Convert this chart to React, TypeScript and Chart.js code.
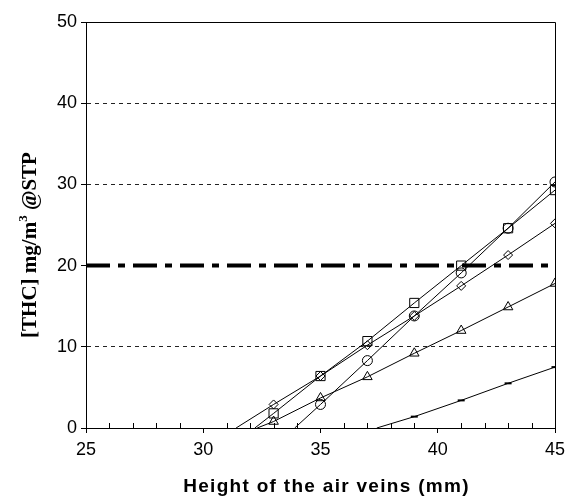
import React, { useEffect, useRef } from "react";
import { Chart, registerables } from "chart.js";

Chart.register(...registerables);

// Data
const diamondX = [31.4, 33, 35, 37, 39, 41, 43, 45];
const diamondY = [0, 2.9, 6.4, 10.2, 13.8, 17.5, 21.3, 25.2];
const squareX = [32.2, 33, 35, 37, 39, 41, 43, 45];
const squareY = [0, 1.8, 6.4, 10.7, 15.4, 20.0, 24.6, 29.3];
const circleX = [33.9, 35, 37, 39, 41, 43, 45];
const circleY = [0, 2.9, 8.3, 13.8, 19.1, 24.6, 30.3];
const triangleX = [32.3, 33, 35, 37, 39, 41, 43, 45];
const triangleY = [0, 0.8, 3.7, 6.3, 9.2, 12.0, 14.9, 17.8];
const dashX = [37.4, 39, 41, 43, 45];
const dashY = [0, 1.4, 3.4, 5.5, 7.5];
const thresholdX = [25, 45];
const thresholdY = [20, 20];

const xMin = 25;
const xMax = 45;
const yMin = 0;
const yMax = 50;
const yGridValues = [10, 30, 40];

const xTitle = "Height of the air veins (mm)";
const yTitleMain = "[THC] mg/m";
const yTitleSup = "3";
const yTitleEnd = " @STP";

const pts = (xs: number[], ys: number[]) => xs.map((x, i) => ({ x, y: ys[i] }));
const radii = (n: number, r: number) => Array.from({ length: n }, (_, i) => (i === 0 ? 0 : r));

const frame = {
  id: "frame",
  afterDraw(chart: any) {
    const { ctx, chartArea } = chart;
    const xs = chart.scales.x;
    ctx.save();
    ctx.strokeStyle = "#000";
    ctx.lineWidth = 1;
    ctx.beginPath();
    ctx.moveTo(chartArea.left, chartArea.top + 0.5);
    ctx.lineTo(chartArea.right + 0.5, chartArea.top + 0.5);
    ctx.lineTo(chartArea.right + 0.5, chartArea.bottom);
    ctx.stroke();
    // minor inside ticks
    ctx.beginPath();
    for (let v = xMin + 1; v < xMax; v++) {
      if (v % 5 === 0) continue;
      const px = Math.round(xs.getPixelForValue(v)) + 0.5;
      ctx.moveTo(px, chartArea.bottom);
      ctx.lineTo(px, chartArea.bottom - 5);
    }
    ctx.stroke();
    // x title
    ctx.fillStyle = "#000";
    ctx.font = "bold 19px 'Liberation Sans', Arial, sans-serif";
    try {
      (ctx as any).letterSpacing = "1.3px";
    } catch (e) {}
    ctx.textAlign = "center";
    ctx.textBaseline = "alphabetic";
    ctx.fillText(xTitle, (chartArea.left + chartArea.right) / 2 + 6, 492);
    try {
      (ctx as any).letterSpacing = "0px";
    } catch (e) {}
    // y title
    ctx.translate(36, 245);
    ctx.rotate(-Math.PI / 2);
    const mainFont = "bold 21px 'Liberation Serif', 'Times New Roman', serif";
    const supFont = "bold 13px 'Liberation Serif', 'Times New Roman', serif";
    ctx.font = mainFont;
    const w1 = ctx.measureText(yTitleMain).width;
    const w3 = ctx.measureText(yTitleEnd).width;
    ctx.font = supFont;
    const w2 = ctx.measureText(yTitleSup).width;
    const total = w1 + w2 + w3;
    let sx = -total / 2;
    ctx.textAlign = "left";
    ctx.font = mainFont;
    ctx.fillText(yTitleMain, sx, 0);
    sx += w1;
    ctx.font = supFont;
    ctx.fillText(yTitleSup, sx, -9);
    sx += w2;
    ctx.font = mainFont;
    ctx.fillText(yTitleEnd, sx, 0);
    ctx.restore();
  },
};

export default function App() {
  const ref = useRef<HTMLCanvasElement | null>(null);
  useEffect(() => {
    if (!ref.current) return;
    const line = (label: string, xs: number[], ys: number[], style: any, r: number, extra: any = {}) => ({
      label,
      data: pts(xs, ys),
      showLine: true,
      borderColor: "#000",
      borderWidth: 1,
      backgroundColor: "transparent",
      pointStyle: style,
      pointRadius: radii(xs.length, r),
      pointBorderColor: "#000",
      pointBackgroundColor: "transparent",
      pointBorderWidth: 1,
      tension: 0,
      ...extra,
    });
    const chart = new Chart(ref.current, {
      type: "scatter",
      data: {
        datasets: [
          {
            label: "limit",
            data: pts(thresholdX, thresholdY),
            showLine: true,
            borderColor: "#000",
            borderWidth: 4,
            borderDash: [24, 8, 7, 8],
            pointRadius: 0,
            backgroundColor: "transparent",
          },
          line("diamond", diamondX, diamondY, "rectRot", 4.5),
          line("square", squareX, squareY, "rect", 6.5),
          line("circle", circleX, circleY, "circle", 5),
          line("triangle", triangleX, triangleY, "triangle", 5.5),
          line("dash", dashX, dashY, "line", 3.5, { pointBorderWidth: 2 }),
        ] as any,
      },
      options: {
        animation: false,
        responsive: false,
        layout: { padding: { top: 22, right: 12, left: 0, bottom: 0 } },
        plugins: { legend: { display: false }, tooltip: { enabled: false } },
        scales: {
          x: {
            type: "linear",
            min: xMin,
            max: xMax,
            afterFit: (s: any) => {
              s.height = 68;
              s.paddingRight = 0;
              s.paddingLeft = 0;
            },
            ticks: {
              stepSize: 1,
              autoSkip: false,
              maxRotation: 0,
              color: "#000",
              padding: 6,
              font: { family: "'Liberation Sans', Arial, sans-serif", size: 18 },
              callback: (v: any) => (Number(v) % 5 === 0 ? String(v) : ""),
            },
            grid: {
              drawOnChartArea: false,
              drawTicks: true,
              tickLength: 5,
              tickColor: (c: any) => (c.tick && c.tick.value % 5 === 0 ? "#000" : "transparent"),
            },
            border: { display: true, color: "#000", width: 1 },
          },
          y: {
            min: yMin,
            max: yMax,
            afterFit: (s: any) => {
              s.width = 86;
            },
            ticks: {
              stepSize: 10,
              color: "#000",
              padding: 4,
              font: { family: "'Liberation Sans', Arial, sans-serif", size: 18 },
            },
            grid: {
              drawTicks: true,
              tickLength: 5,
              tickColor: "#000",
              color: (c: any) => (c.tick && yGridValues.includes(c.tick.value) ? "#222" : "transparent"),
              lineWidth: 1,
            },
            border: { display: true, color: "#000", width: 1, dash: [4, 4] },
          },
        },
      } as any,
      plugins: [frame],
    });
    return () => chart.destroy();
  }, []);
  return (
    <div style={{ position: "absolute", left: 0, top: 0, width: 567, height: 496, background: "#fff" }}>
      <canvas ref={ref} width={567} height={496} />
    </div>
  );
}
